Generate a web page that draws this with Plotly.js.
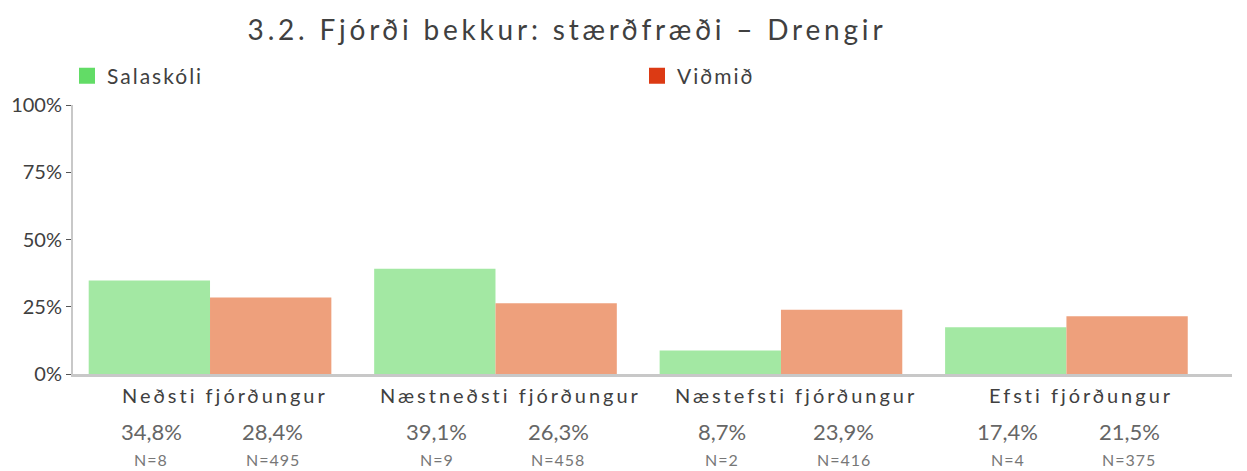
<!DOCTYPE html>
<html>
<head>
<meta charset="utf-8">
<script src="https://cdn.plot.ly/plotly-3.0.1.min.js"></script>
<style>
html,body{margin:0;padding:0;background:#fff;}
#chart{width:1247px;height:471px;}
.main-svg .gtitle{letter-spacing:3.8px;}
.main-svg .legendtext{letter-spacing:2px;}
</style>
</head>
<body>
<div id="chart"></div>
<script>
const categories = ["Neðsti fjórðungur", "Næstneðsti fjórðungur", "Næstefsti fjórðungur", "Efsti fjórðungur"];
const seriesNames = ["Salaskóli", "Viðmið"];
const schoolValues = [34.8, 39.1, 8.7, 17.4];
const normValues = [28.4, 26.3, 23.9, 21.5];
const schoolN = [8, 9, 2, 4];
const normN = [495, 458, 416, 375];
const yTickVals = [0, 25, 50, 75, 100];
const yTickText = ["0%", "25%", "50%", "75%", "100%"];

const barColors = ["#a3e8a3", "#eea07c"];
const legendColors = ["#62dc66", "#dc3a14"];
const xIdx = categories.map((c, i) => i);
const fmt = v => v.toFixed(1).replace('.', ',') + '%';
const spaced = (t, px) => '<span style="letter-spacing:' + px + 'px">' + t + '</span>';

const traces = [
  {type: 'bar', x: xIdx, y: schoolValues, name: seriesNames[0], showlegend: false,
   marker: {color: barColors[0], line: {width: 0}}, hoverinfo: 'skip'},
  {type: 'bar', x: xIdx, y: normValues, name: seriesNames[1], showlegend: false,
   marker: {color: barColors[1], line: {width: 0}}, hoverinfo: 'skip'},
  {type: 'scatter', mode: 'markers', x: [null], y: [null], name: seriesNames[0],
   marker: {symbol: 'square', size: 16, color: legendColors[0]}},
  {type: 'scatter', mode: 'markers', x: [null], y: [null], name: seriesNames[1],
   marker: {symbol: 'square', size: 16, color: legendColors[1]}}
];

const annotations = [];
const half = 0.85 / 4; // bar centre offset in category units (bargap 0.15, 2 bars)
categories.forEach((c, i) => {
  annotations.push({x: i, y: 0, xref: 'x', yref: 'paper', text: spaced(c, 3), showarrow: false,
    xshift: 15, yshift: -21, yanchor: 'middle', font: {size: 20, color: '#404040'}});
  annotations.push({x: i - half, y: 0, xref: 'x', yref: 'paper', text: fmt(schoolValues[i]), showarrow: false,
    xshift: 2, yshift: -57, yanchor: 'middle', font: {size: 22, color: '#666'}});
  annotations.push({x: i + half, y: 0, xref: 'x', yref: 'paper', text: fmt(normValues[i]), showarrow: false,
    xshift: 2, yshift: -57, yanchor: 'middle', font: {size: 22, color: '#666'}});
  annotations.push({x: i - half, y: 0, xref: 'x', yref: 'paper', text: spaced('N=' + schoolN[i], 1), showarrow: false,
    xshift: 2, yshift: -85, yanchor: 'middle', font: {size: 16, color: '#777'}});
  annotations.push({x: i + half, y: 0, xref: 'x', yref: 'paper', text: spaced('N=' + normN[i], 1), showarrow: false,
    xshift: 2, yshift: -85, yanchor: 'middle', font: {size: 16, color: '#777'}});
});

const layout = {
  width: 1247, height: 471,
  margin: {l: 73, r: 15, t: 105, b: 97},
  paper_bgcolor: '#fff', plot_bgcolor: '#fff',
  font: {family: 'Lato, "Open Sans", sans-serif', color: '#404040'},
  title: {text: '3.2. Fjórði bekkur: stærðfræði – Drengir', xref: 'container', x: 567/1247, xanchor: 'center',
    yref: 'container', y: 1 - 30/471, yanchor: 'middle', font: {size: 28, color: '#404040'}},
  showlegend: true,
  legend: {orientation: 'h', xref: 'container', yref: 'container', x: 67/1247, y: 1 - 76/471,
    xanchor: 'left', yanchor: 'middle', entrywidth: 525, entrywidthmode: 'pixels',
    font: {size: 21, color: '#404040'}, bgcolor: 'rgba(0,0,0,0)'},
  barmode: 'group', bargap: 0.15, bargroupgap: 0,
  xaxis: {range: [-0.48, 3.58], showticklabels: false, ticks: '', showgrid: false, zeroline: false,
    showline: true, linecolor: '#c8c8c8', linewidth: 3, fixedrange: true},
  yaxis: {range: [0, 100], tickvals: yTickVals, ticktext: yTickText, showgrid: false, zeroline: false,
    showline: true, linecolor: '#c8c8c8', linewidth: 2, ticks: 'outside', ticklen: 5, tickcolor: '#555',
    tickfont: {size: 20, color: '#404040'}, fixedrange: true},
  annotations: annotations
};

Plotly.newPlot('chart', traces, layout, {staticPlot: true, displayModeBar: false});
</script>
</body>
</html>
